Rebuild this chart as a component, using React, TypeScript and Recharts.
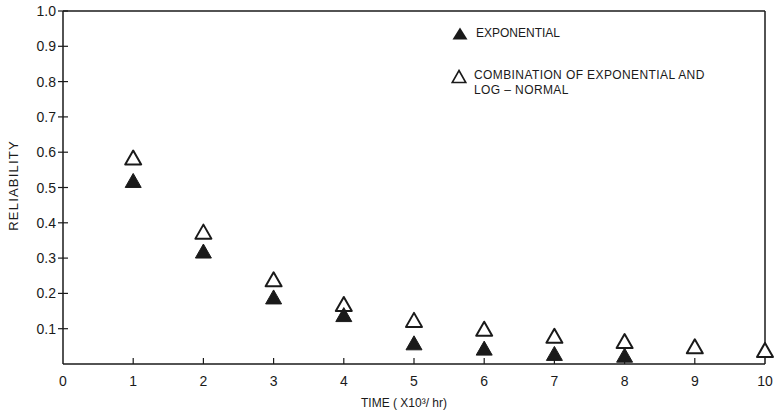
import { ScatterChart, Scatter, XAxis, YAxis, ReferenceLine } from "recharts";

const hours = [1, 2, 3, 4, 5, 6, 7, 8, 9, 10];
const exponential = [0.52, 0.32, 0.19, 0.14, 0.06, 0.045, 0.03, 0.025];
const combined = [0.585, 0.375, 0.24, 0.17, 0.125, 0.1, 0.08, 0.065, 0.05, 0.04];
const xTicks = [0, 1, 2, 3, 4, 5, 6, 7, 8, 9, 10];
const yTicks = [0.1, 0.2, 0.3, 0.4, 0.5, 0.6, 0.7, 0.8, 0.9, 1.0];

const expData = exponential.map((r, i) => ({ t: hours[i], r }));
const combData = combined.map((r, i) => ({ t: hours[i], r }));

const FONT = "'Liberation Sans', Arial, sans-serif";
const INK = "#1a1a1a";

function Triangle(props: any) {
  const { cx, cy, filled } = props;
  if (cx == null || cy == null) return null;
  const w = 8;
  const h = 7;
  const d = `M${cx},${cy - h} L${cx + w},${cy + h} L${cx - w},${cy + h} Z`;
  return (
    <path
      d={d}
      fill={filled ? INK : "#fff"}
      stroke={INK}
      strokeWidth={filled ? 1 : 2}
      strokeLinejoin="round"
    />
  );
}

function XTick(props: any) {
  const { x, y, payload } = props;
  const v = payload.value;
  return (
    <g>
      {v > 0 && v < 10 && (
        <line x1={x} y1={y} x2={x} y2={y - 6} stroke={INK} strokeWidth={1.2} />
      )}
      <text
        x={x}
        y={y + 22}
        textAnchor="middle"
        fontFamily={FONT}
        fontSize={14}
        fill={INK}
      >
        {v}
      </text>
    </g>
  );
}

function YTick(props: any) {
  const { x, y, payload } = props;
  return (
    <g>
      <line x1={x - 5} y1={y} x2={x + 5} y2={y} stroke={INK} strokeWidth={1.2} />
      <text
        x={x - 7}
        y={y + 5}
        textAnchor="end"
        fontFamily={FONT}
        fontSize={14}
        fill={INK}
      >
        {payload.value.toFixed(1)}
      </text>
    </g>
  );
}

// rotated y-axis title, placed from the axis viewBox
function YTitle(props: any) {
  const vb = props.viewBox || { x: 0, y: 11, width: 63, height: 353 };
  const cx = vb.x + 13;
  const cy = vb.y + vb.height / 2 - 2;
  return (
    <text
      x={cx}
      y={cy}
      transform={`rotate(-90, ${cx}, ${cy})`}
      textAnchor="middle"
      dominantBaseline="central"
      fontFamily={FONT}
      fontSize={13}
      letterSpacing={1.2}
      fill={INK}
    >
      RELIABILITY
    </text>
  );
}

const legendText = {
  position: "absolute" as const,
  fontSize: 12,
  color: INK,
  whiteSpace: "nowrap" as const,
  lineHeight: "14px",
};

export default function App() {
  return (
    <div
      style={{
        position: "fixed",
        left: 0,
        top: 0,
        width: 774,
        height: 416,
        background: "#fff",
        fontFamily: FONT,
      }}
    >
      <ScatterChart
        width={774}
        height={416}
        margin={{ top: 11, right: 9, left: 0, bottom: 0 }}
      >
        <XAxis
          type="number"
          dataKey="t"
          domain={[0, 10]}
          ticks={xTicks}
          interval={0}
          height={52}
          tickSize={0}
          tickMargin={0}
          tick={<XTick />}
          axisLine={{ stroke: INK, strokeWidth: 1.5 }}
          tickLine={false}
          label={{
            value: "TIME ( X10³/ hr)",
            position: "insideBottom",
            offset: 9,
            dx: -10,
            fontFamily: FONT,
            fontSize: 12,
            fill: INK,
          }}
        />
        <YAxis
          type="number"
          dataKey="r"
          domain={[0, 1]}
          ticks={yTicks}
          interval={0}
          width={63}
          tickSize={0}
          tickMargin={0}
          tick={<YTick />}
          axisLine={{ stroke: INK, strokeWidth: 1.5 }}
          tickLine={false}
          label={<YTitle />}
        />
        <ReferenceLine y={1} stroke={INK} strokeWidth={1.5} />
        <ReferenceLine x={10} stroke={INK} strokeWidth={1.5} />
        <Scatter
          data={combData}
          shape={(p: any) => <Triangle {...p} filled={false} />}
          isAnimationActive={false}
        />
        <Scatter
          data={expData}
          shape={(p: any) => <Triangle {...p} filled />}
          isAnimationActive={false}
        />
      </ScatterChart>

      {/* legend */}
      <svg
        width={16}
        height={13}
        style={{ position: "absolute", left: 452, top: 27 }}
      >
        <path d="M8,0.5 L15.5,12.5 L0.5,12.5 Z" fill={INK} />
      </svg>
      <div style={{ ...legendText, left: 476, top: 26 }}>EXPONENTIAL</div>

      <svg
        width={16}
        height={15}
        style={{ position: "absolute", left: 451, top: 69 }}
      >
        <path
          d="M8,1.5 L14.8,13.5 L1.2,13.5 Z"
          fill="#fff"
          stroke={INK}
          strokeWidth={1.6}
        />
      </svg>
      <div style={{ ...legendText, left: 474, top: 68, letterSpacing: 0.4 }}>
        COMBINATION OF EXPONENTIAL AND
      </div>
      <div style={{ ...legendText, left: 474, top: 83, letterSpacing: 0.4 }}>
        LOG – NORMAL
      </div>
    </div>
  );
}
